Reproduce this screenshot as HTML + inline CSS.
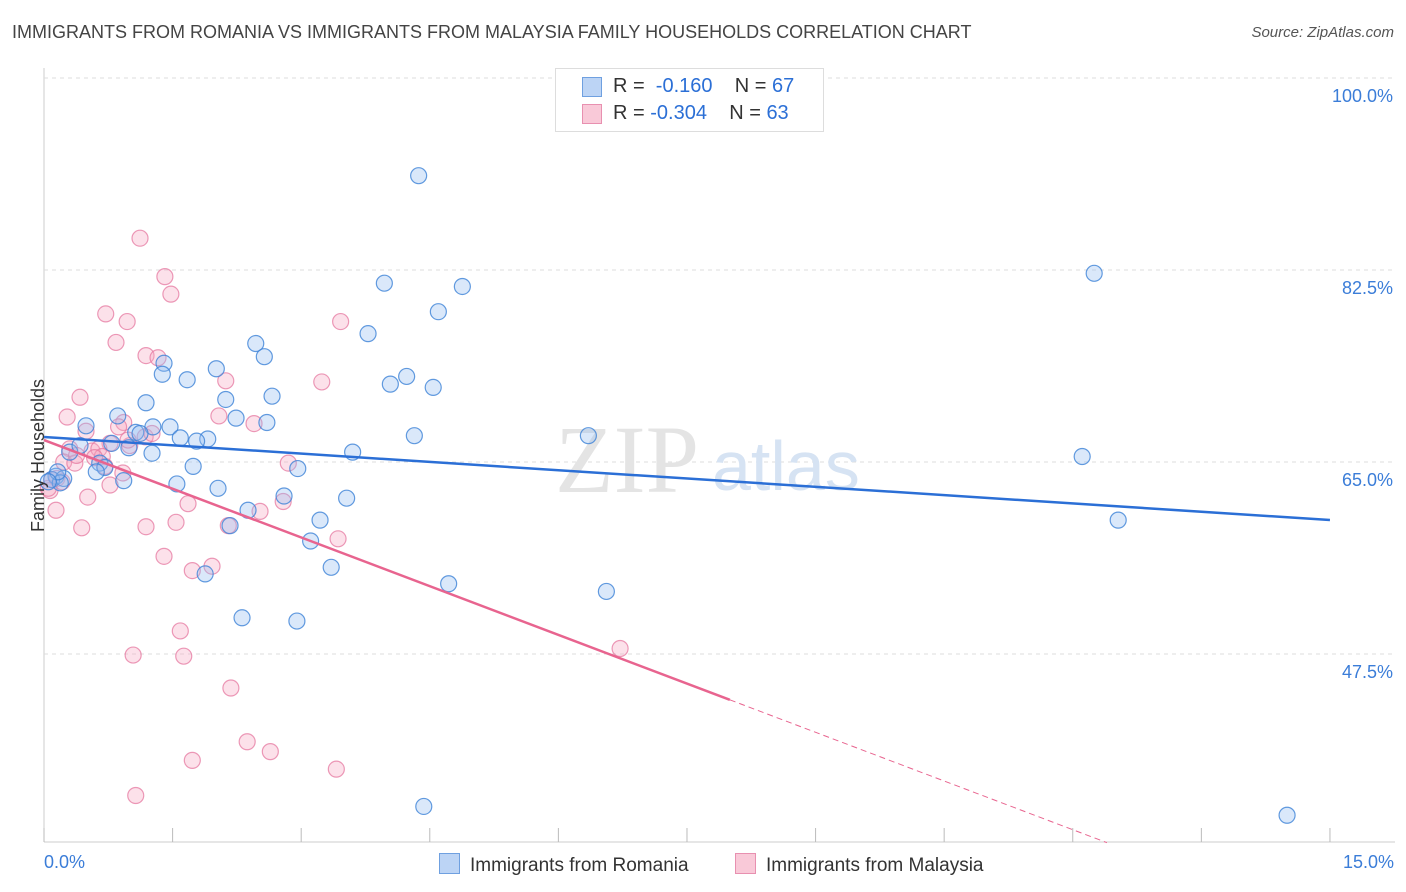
<!DOCTYPE html>
<html><head><meta charset="utf-8"><style>
body{margin:0;background:#fff;font-family:"Liberation Sans",sans-serif;}
#wrap{position:relative;width:1406px;height:892px;overflow:hidden}
.t{position:absolute;white-space:nowrap}
</style></head><body>
<div id="wrap">
<div class="t" style="left:12px;top:22px;font-size:18px;color:#444">IMMIGRANTS FROM ROMANIA VS IMMIGRANTS FROM MALAYSIA FAMILY HOUSEHOLDS CORRELATION CHART</div>
<div class="t" style="right:12px;top:24px;font-size:15px;color:#555;font-style:italic">Source: ZipAtlas.com</div>
<svg id="chart" width="1406" height="892" style="position:absolute;left:0;top:0"></svg>
</div>
<script>
const blueX=[4.37,12.25,3.97,4.88,4.60,3.78,2.47,2.57,1.40,1.38,2.01,1.67,4.04,4.23,4.54,2.66,2.12,1.19,0.86,2.24,2.60,0.49,1.27,1.47,1.59,1.91,1.78,1.07,1.12,4.32,6.35,0.79,0.99,1.26,3.60,0.30,0.42,12.11,0.65,1.74,0.71,0.61,2.96,0.93,0.14,0.09,0.23,0.19,1.55,2.03,2.80,3.53,2.38,2.17,3.22,12.53,3.11,3.35,1.88,4.72,6.56,2.31,2.95,4.43,14.50,0.16,0.05];
const blueY=[91.1,82.2,81.3,81.0,78.7,76.7,75.8,74.6,74.0,73.0,73.5,72.5,72.1,72.8,71.8,71.0,70.7,70.4,69.2,69.0,68.6,68.3,68.2,68.2,67.2,67.1,66.9,67.7,67.6,67.4,67.4,66.7,66.3,65.8,65.9,65.9,66.5,65.5,64.9,64.6,64.5,64.1,64.4,63.3,63.7,63.4,63.5,63.1,63.0,62.6,61.9,61.7,60.6,59.2,59.7,59.7,57.8,55.4,54.8,53.9,53.2,50.8,50.5,33.6,32.8,64.1,63.2];
const pinkX=[1.12,1.41,1.48,0.72,0.97,3.46,0.84,1.19,1.33,2.12,3.24,0.42,0.27,2.04,2.45,0.93,0.87,1.18,1.26,0.77,0.49,0.30,0.56,0.64,0.23,0.36,0.68,2.85,0.71,0.92,0.09,0.07,0.14,0.51,0.77,2.79,1.68,2.52,1.54,1.19,0.44,2.15,3.43,1.40,1.96,1.73,6.72,1.59,1.04,1.63,2.18,2.37,2.64,1.73,3.41,1.07,0.15,0.21,0.05,1.00,0.59,0.38,0.98];
const pinkY=[85.4,81.9,80.3,78.5,77.8,77.8,75.9,74.7,74.5,72.4,72.3,70.9,69.1,69.2,68.5,68.6,68.2,67.3,67.6,66.7,67.8,66.2,66.0,66.2,65.0,64.9,65.5,64.9,64.6,64.0,63.4,62.4,60.6,61.8,62.9,61.4,61.2,60.5,59.5,59.1,59.0,59.2,58.0,56.4,55.5,55.1,48.0,49.6,47.4,47.3,44.4,39.5,38.6,37.8,37.0,34.6,63.5,63.2,62.6,66.5,65.4,65.6,67.0];
const blueTrend=[67.28,59.71];
const pinkTrend=[67.0,-2.96];
const pinkSolidEnd=8.0;
const yTicks=[100,82.5,65,47.5];
const yTickLabels=["100.0%","82.5%","65.0%","47.5%"];

const svg=document.getElementById('chart');const NS='http://www.w3.org/2000/svg';
const X=v=>44+v*85.73, Y=v=>462-(v-65)*10.97;
function mk(tag,attrs,parent){const e=document.createElementNS(NS,tag);for(const k in attrs)e.setAttribute(k,attrs[k]);(parent||svg).appendChild(e);return e;}
// axes
let ax=mk('line',{x1:44,y1:68,x2:44,y2:842,stroke:'#ccc'});


let bx=mk('line',{x1:44,y1:842,x2:1395,y2:842,stroke:'#ccc'});


for(let i=0;i<=10;i++){let t=mk('line',{x1:X(i*1.5),y1:828,x2:X(i*1.5),y2:842,stroke:'#bbb'});

}
yTicks.forEach((v,i)=>{let g=mk('line',{x1:44,y1:Y(v),x2:1395,y2:Y(v),stroke:'#ddd','stroke-dasharray':'4,4'});


let t=mk('text',{x:1393,y:Y(v)+24,'text-anchor':'end','font-size':18,fill:'#3b7dd8'});t.textContent=yTickLabels[i];

});
// watermark
let wm=mk('text',{x:555,y:492,'font-size':96,fill:'#e4e4e4','font-family':'Liberation Serif'});wm.textContent='ZIP';


let wm2=mk('text',{x:712,y:490,'font-size':70,fill:'#d6e3f3'});wm2.textContent='atlas';


// points
pinkX.forEach((v,i)=>{let c=mk('circle',{cx:X(v),cy:Y(pinkY[i]),r:8,fill:'rgba(246,170,195,0.35)',stroke:'rgba(230,120,160,0.75)','stroke-width':1.2});

});
blueX.forEach((v,i)=>{let c=mk('circle',{cx:X(v),cy:Y(blueY[i]),r:8,fill:'rgba(150,190,240,0.35)',stroke:'rgba(60,130,215,0.8)','stroke-width':1.2});

});
// trends
let bl=mk('line',{x1:X(0),y1:Y(blueTrend[0]),x2:X(15),y2:Y(blueTrend[1]),stroke:'#2b6fd6','stroke-width':2.5});


const pf=x=>pinkTrend[0]+pinkTrend[1]*x;
let pl=mk('line',{x1:X(0),y1:Y(pf(0)),x2:X(pinkSolidEnd),y2:Y(pf(pinkSolidEnd)),stroke:'#e8648f','stroke-width':2.5});


const xe=(pinkTrend[0]-30.3)/-pinkTrend[1];
let pd=mk('line',{x1:X(pinkSolidEnd),y1:Y(pf(pinkSolidEnd)),x2:X(xe),y2:Y(pf(xe)),stroke:'#e8648f','stroke-width':1,'stroke-dasharray':'6,4'});


</script>
<div class="t" style="left:-38px;top:445px;transform:rotate(-90deg);font-size:18px;color:#333">Family Households</div>
<div class="t" style="left:44px;top:852px;font-size:18px;color:#3b7dd8">0.0%</div>
<div class="t" style="right:12px;top:852px;font-size:18px;color:#3b7dd8">15.0%</div>
<div style="position:absolute;left:555px;top:68px;width:267px;height:62px;border:1px solid #ddd;background:#fff;font-size:20px">
 <div style="position:absolute;left:26px;top:8px;width:18px;height:18px;background:#bcd4f5;border:1px solid #6fa0e0"></div>
 <div class="t" style="left:57px;top:6px;color:#333">R = <span style="color:#2b6fd6">&nbsp;-0.160</span>&nbsp;&nbsp;&nbsp; N = <span style="color:#2b6fd6">67</span></div>
 <div style="position:absolute;left:26px;top:35px;width:18px;height:18px;background:#f9c9d8;border:1px solid #e890b0"></div>
 <div class="t" style="left:57px;top:33px;color:#333">R = <span style="color:#2b6fd6">-0.304</span>&nbsp;&nbsp;&nbsp; N = <span style="color:#2b6fd6">63</span></div>
</div>
<div style="position:absolute;left:439px;top:853px;font-size:19px;color:#333">
 <span style="display:inline-block;width:19px;height:19px;background:#bcd4f5;border:1px solid #6fa0e0;vertical-align:-3px;margin-right:10px"></span>Immigrants from Romania</div>
<div style="position:absolute;left:735px;top:853px;font-size:19px;color:#333">
 <span style="display:inline-block;width:19px;height:19px;background:#f9c9d8;border:1px solid #e890b0;vertical-align:-3px;margin-right:10px"></span>Immigrants from Malaysia</div>
</body></html>
